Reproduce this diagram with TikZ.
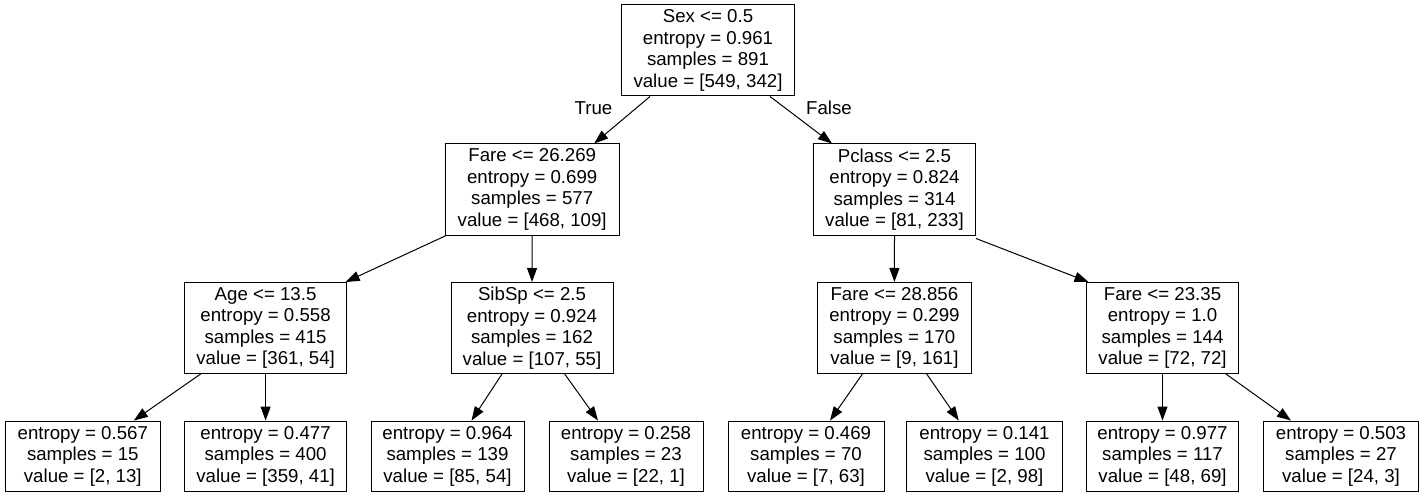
\documentclass[tikz,border=0pt]{standalone}
\usepackage{fontspec}
\setmainfont{Liberation Sans}
\usetikzlibrary{arrows.meta}
\begin{document}
\begin{tikzpicture}[x=1pt,y=-1pt,
  box/.style={draw=black,line width=1pt,rectangle,inner sep=0pt,align=center,
    font=\fontsize{18.67}{21.5}\selectfont},
  inner/.style={box,minimum height=91pt},
  leaf/.style={box,minimum height=70.5pt},
  edge/.style={draw=black,line width=1pt,-{Triangle[length=14pt,width=10pt]}},
  lbl/.style={font=\fontsize{18.67}{21.5}\selectfont,inner sep=0pt}]
\useasboundingbox (0,0) rectangle (1424,497);
\fill[white] (0,0) rectangle (1424,497);
% level 0
\node[inner,minimum width=173.4pt] (root) at (708,50.5) {Sex <= 0.5\\entropy = 0.961\\samples = 891\\value = [549, 342]};
% level 1
\node[inner,minimum width=173.7pt] (fa) at (532.2,189.5) {Fare <= 26.269\\entropy = 0.699\\samples = 577\\value = [468, 109]};
\node[inner,minimum width=162pt] (pc) at (894.5,189.5) {Pclass <= 2.5\\entropy = 0.824\\samples = 314\\value = [81, 233]};
% level 2
\node[inner,minimum width=162pt] (age) at (265.6,328) {Age <= 13.5\\entropy = 0.558\\samples = 415\\value = [361, 54]};
\node[inner,minimum width=162pt] (sib) at (532,328) {SibSp <= 2.5\\entropy = 0.924\\samples = 162\\value = [107, 55]};
\node[inner,minimum width=154.7pt] (fb) at (894.4,328) {Fare <= 28.856\\entropy = 0.299\\samples = 170\\value = [9, 161]};
\node[inner,minimum width=152pt] (fc) at (1162.5,328) {Fare <= 23.35\\entropy = 1.0\\samples = 144\\value = [72, 72]};
% leaves
\node[leaf,minimum width=154.5pt] (l1) at (82.8,456.3) {entropy = 0.567\\samples = 15\\value = [2, 13]};
\node[leaf,minimum width=162pt] (l2) at (265.6,456.3) {entropy = 0.477\\samples = 400\\value = [359, 41]};
\node[leaf,minimum width=153pt] (l3) at (447.5,456.3) {entropy = 0.964\\samples = 139\\value = [85, 54]};
\node[leaf,minimum width=154pt] (l4) at (626,456.3) {entropy = 0.258\\samples = 23\\value = [22, 1]};
\node[leaf,minimum width=156pt] (l5) at (806,456.3) {entropy = 0.469\\samples = 70\\value = [7, 63]};
\node[leaf,minimum width=156pt] (l6) at (984.5,456.3) {entropy = 0.141\\samples = 100\\value = [2, 98]};
\node[leaf,minimum width=152pt] (l7) at (1162.5,456.3) {entropy = 0.977\\samples = 117\\value = [48, 69]};
\node[leaf,minimum width=154.7pt] (l8) at (1341,456.3) {entropy = 0.503\\samples = 27\\value = [24, 3]};
% edges
\draw[edge] ([xshift=-58pt]root.south) -- ([xshift=62pt]fa.north);
\draw[edge] ([xshift=62pt]root.south) -- ([xshift=-62.5pt]pc.north);
\draw[edge] ([xshift=-86pt]fa.south) -- ([xshift=80pt]age.north);
\draw[edge] (fa.south) -- (sib.north);
\draw[edge] (pc.south) -- (fb.north);
\draw[edge] ([yshift=-3pt]pc.south east) -- ([xshift=-74pt]fc.north);
\draw[edge] ([xshift=-65pt]age.south) -- ([xshift=51pt]l1.north);
\draw[edge] (age.south) -- (l2.north);
\draw[edge] ([xshift=-30pt]sib.south) -- ([xshift=24pt]l3.north);
\draw[edge] ([xshift=32.7pt]sib.south) -- ([xshift=-28pt]l4.north);
\draw[edge] ([xshift=-32pt]fb.south) -- ([xshift=24pt]l5.north);
\draw[edge] ([xshift=32.3pt]fb.south) -- ([xshift=-25.7pt]l6.north);
\draw[edge] (fc.south) -- (l7.north);
\draw[edge] ([xshift=63.5pt]fc.south) -- ([xshift=-50pt]l8.north);
% edge labels
\node[lbl] (tlabel) at (593.5,108) {True};
\node[lbl] (flabel) at (829,108) {False};
\end{tikzpicture}
\end{document}
